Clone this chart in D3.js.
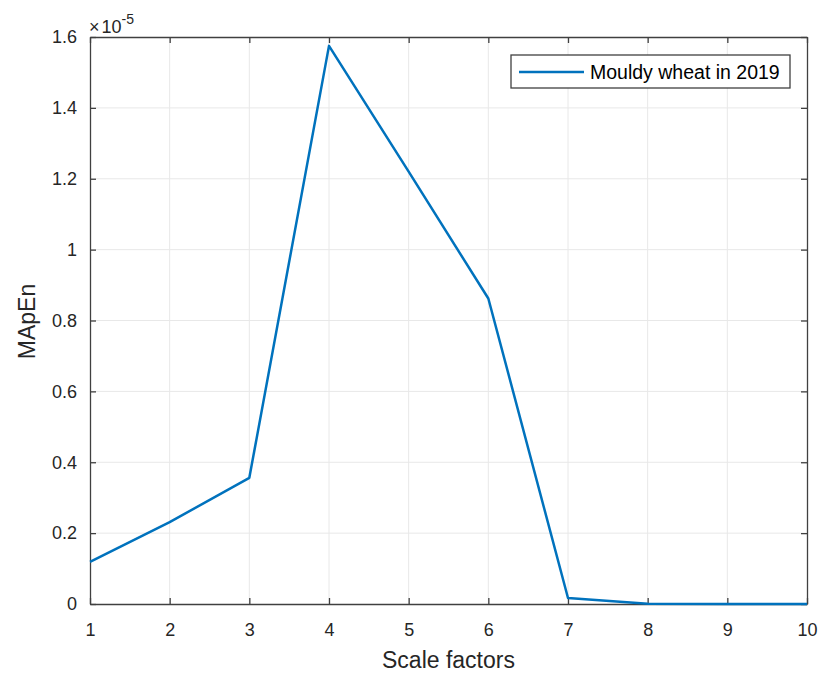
<!DOCTYPE html>
<html>
<head>
<meta charset="utf-8">
<script src="https://cdn.jsdelivr.net/npm/d3@7"></script>
<style>
  body { margin: 0; background: #fff; }
  text { font-family: "Liberation Sans", Arial, sans-serif; }
</style>
</head>
<body>
<div class="chartDiv"></div>
<script>

// data (values in units of 1e-5)
let scaleFactors = [1, 2, 3, 4, 5, 6, 7, 8, 9, 10];
let mapen = [0.119, 0.231, 0.356, 1.575, 1.22, 0.862, 0.017, 0.001, 0, 0];
let xTicks = [1, 2, 3, 4, 5, 6, 7, 8, 9, 10];
let yTicks = [0, 0.2, 0.4, 0.6, 0.8, 1, 1.2, 1.4, 1.6];
let seriesName = "Mouldy wheat in 2019";

let margin = {top: 37, right: 16, bottom: 77, left: 90},
    width = 823 - margin.left - margin.right,
    height = 681 - margin.top - margin.bottom;

let x = d3.scaleLinear().domain([1, 10]).range([0, width]);
let y = d3.scaleLinear().domain([0, 1.6]).range([height, 0]);

let svg = d3.select(".chartDiv").append("svg")
    .attr("width", 823)
    .attr("height", 681)
  .append("g")
    .attr("transform", "translate(" + margin.left + "," + margin.top + ")");

// grid
svg.append("g").selectAll("line").data(xTicks.slice(1, -1)).join("line")
    .attr("x1", d => x(d)).attr("x2", d => x(d))
    .attr("y1", 0).attr("y2", height)
    .attr("stroke", "#e8e8e8").attr("stroke-width", 1);
svg.append("g").selectAll("line").data(yTicks.slice(1, -1)).join("line")
    .attr("y1", d => y(d)).attr("y2", d => y(d))
    .attr("x1", 0).attr("x2", width)
    .attr("stroke", "#e8e8e8").attr("stroke-width", 1);

// axes (matlab style, ticks inside)
let xAxis = d3.axisBottom(x).tickValues(xTicks).tickSizeInner(-6).tickSizeOuter(0).tickPadding(19).tickFormat(d3.format("d"));
let yAxis = d3.axisLeft(y).tickValues(yTicks).tickSizeInner(-6).tickSizeOuter(0).tickPadding(13).tickFormat(d => d === 0 ? "0" : d3.format("~g")(d));
let xTop = d3.axisTop(x).tickValues(xTicks).tickSizeInner(-6).tickSizeOuter(0).tickFormat("");
let yRight = d3.axisRight(y).tickValues(yTicks).tickSizeInner(-6).tickSizeOuter(0).tickFormat("");

function styleAxis(g) {
  g.selectAll("path, line").attr("stroke", "#404040").attr("stroke-width", 1.3);
  g.selectAll("text").attr("fill", "#262626").style("font-size", "18px");
}

svg.append("g").attr("transform", "translate(0," + height + ")").call(xAxis).call(styleAxis);
svg.append("g").call(yAxis).call(styleAxis);
svg.append("g").call(xTop).call(styleAxis);
svg.append("g").attr("transform", "translate(" + width + ",0)").call(yRight).call(styleAxis);

// exponent label
let expLabel = svg.append("text")
    .attr("x", -1).attr("y", -4)
    .attr("fill", "#262626").style("font-size", "18px");
expLabel.append("tspan").text("\u00d7").attr("dx", 0);
expLabel.append("tspan").attr("dx", 2).text("10");
expLabel.append("tspan").attr("dy", -9).style("font-size", "14px").text("-5");

// line
let line = d3.line().x((d, i) => x(scaleFactors[i])).y(d => y(d));
svg.append("path")
    .datum(mapen)
    .attr("fill", "none")
    .attr("stroke", "#0072bd")
    .attr("stroke-width", 2.5)
    .attr("stroke-linejoin", "round")
    .attr("d", line);

// axis labels
svg.append("text")
    .attr("x", width / 2 + 0).attr("y", height + 64)
    .attr("text-anchor", "middle")
    .attr("fill", "#262626").style("font-size", "23px")
    .text("Scale factors");
svg.append("text")
    .attr("transform", "translate(" + (-55) + "," + (height / 2 + 1) + ") rotate(-90)")
    .attr("text-anchor", "middle")
    .attr("fill", "#262626").style("font-size", "23px")
    .text("MApEn");

// legend
let legend = svg.append("g").attr("transform", "translate(" + (width - 296) + ",18)");
legend.append("rect")
    .attr("width", 279).attr("height", 33)
    .attr("fill", "#fff").attr("stroke", "#404040").attr("stroke-width", 1.3);
legend.append("line")
    .attr("x1", 8).attr("x2", 73).attr("y1", 17).attr("y2", 17)
    .attr("stroke", "#0072bd").attr("stroke-width", 2.5);
legend.append("text")
    .attr("x", 79).attr("y", 24)
    .attr("fill", "#000").style("font-size", "19.5px")
    .text(seriesName);

</script>
</body>
</html>
